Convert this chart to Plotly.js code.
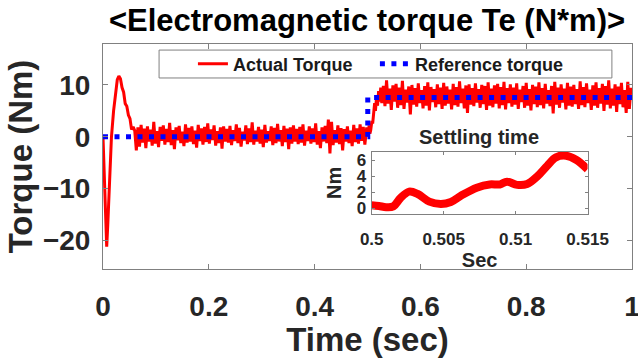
<!DOCTYPE html>
<html><head><meta charset="utf-8">
<script src="https://cdn.plot.ly/plotly-3.0.1.min.js"></script>
<style>html,body{margin:0;padding:0;background:#fff;} #chart{width:638px;height:358px;}</style>
</head><body><div id="chart"></div>
<script>
// ---- data ----
const transientT = [0,0.002,0.004,0.007,0.009,0.012,0.016,0.020,0.024,0.027,0.030,0.033,0.036,0.039,0.042,0.045,0.048,0.051,0.054,0.057];
const transientY = [0,-6,-14,-21.2,-17,-9,0,5,9,11,11.7,11.2,9.5,8.6,6.4,5.9,4.2,3.5,1.4,1.9];

const lowStart = 0.060, lowStep = 0.003;
const lowNoiseY = [
 1.2,-2.6,1.8,-1.9,2.3,-1.1,1.6,-2.2,2.0,-0.9,1.4,-1.7,2.9,-1.3,1.1,-2.0,1.9,-0.8,2.2,-1.5,
 1.5,-1.0,2.7,-1.6,1.3,-2.4,1.8,-0.7,2.1,-1.2,1.0,-1.8,2.4,-1.1,1.7,-0.9,2.0,-1.4,1.2,-2.1,
 2.3,-0.8,1.6,-1.5,1.9,-1.0,2.6,-1.3,1.4,-0.6,2.2,-1.7,1.1,-1.2,1.8,-2.3,2.0,-0.9,1.5,-1.1,
 2.1,-1.6,1.3,-0.8,2.4,-1.2,1.7,-1.9,1.0,-0.7,2.2,-1.4,1.6,-1.0,2.8,-1.5,1.2,-0.9,1.9,-1.3,
 1.4,-2.0,2.3,-1.1,1.1,-0.8,2.0,-1.6,1.7,-1.2,2.5,-0.9,1.3,-1.8,2.1,-1.0,1.6,-2.4,1.8,-1.3,
 2.2,-0.9,1.5,-1.4,1.9,-1.1,2.4,-1.7,1.2,-0.8,2.0,-1.3,1.6,-1.0,2.6,-1.5,1.1,-2.2,1.8,-0.9,
 2.1,-1.2,3.3,-3.2,2.9,-1.6,1.3,-1.1,2.2,-1.4,1.7,-2.6,1.5,-0.9,2.0,-1.2,1.2,-1.8,2.3,-1.0,
 1.6,-1.3,2.4,-0.8,1.9,-1.5];

const stepT = [0.4985,0.5,0.5015,0.503,0.5045,0.506,0.508,0.510,0.512,0.5135,0.515,0.517,0.519,0.521,0.523,0.525,0.527];
const stepY = [1.8,0.4,0.1,2.2,0.6,1.2,2.8,2.8,4.8,6.5,5.0,7.5,6.0,8.8,6.8,9.5,6.5];

const highStart = 0.530, highStep = 0.003;
const highNoiseY = [
 9.8,5.9,10.9,6.4,9.3,5.2,9.9,6.8,10.2,5.6,9.5,6.1,10.8,5.4,9.1,6.6,9.7,4.3,10.0,6.2,
 9.4,5.8,10.3,6.5,9.0,5.5,9.8,6.0,10.5,5.1,9.6,6.7,9.2,5.7,10.1,6.3,9.5,5.4,10.4,6.0,
 9.7,6.4,9.1,5.3,10.2,6.1,9.6,5.8,10.7,6.5,9.3,5.5,9.9,4.6,10.1,6.2,9.4,5.9,10.3,6.6,
 9.2,5.6,10.0,6.3,9.8,5.2,10.5,6.0,9.3,5.7,9.9,6.4,10.2,5.5,9.6,6.1,10.6,5.3,9.4,6.5,
 10.1,5.8,9.5,6.2,10.3,5.4,9.1,6.7,9.8,5.6,10.4,6.0,9.2,5.1,10.0,6.3,9.7,5.7,10.5,6.1,
 9.4,5.5,10.2,6.4,9.0,5.9,9.8,4.5,10.6,6.2,9.5,5.6,10.1,6.6,9.3,5.3,10.4,6.0,9.7,5.8,
 10.0,6.3,9.2,5.4,10.7,6.1,9.6,5.7,10.3,6.5,9.1,5.2,9.9,6.0,10.5,5.6,9.4,6.4,10.2,5.0,
 9.8,6.2,10.9,5.5,9.3,6.0,10.1,4.8,9.7,6.3,10.4,5.7,9.0,4.6,10.6,5.4,9.5];

const refT = [0, 0.5005, 0.5005, 1];
const refY = [0, 0, 7.6, 7.6];

const insetT = [0.5000,0.5005,0.5010,0.5015,0.5020,0.5026,0.5032,0.5040,0.5048,0.5055,0.5063,0.5073,0.5082,0.5089,0.5094,0.5101,0.5108,0.5115,0.5122,0.5128,0.5135,0.5142,0.5150];
const insetY = [0.40,0.30,0.15,0.25,1.30,2.10,1.80,0.85,0.55,0.80,1.70,2.60,3.00,3.00,3.35,2.95,3.05,4.00,5.35,6.40,6.60,6.10,4.90];

const mainXTicks = [0,0.2,0.4,0.6,0.8,1];
const mainYTicks = [-20,-10,0,10];
const insetXTicks = [0.5,0.505,0.51,0.515];
const insetXLabels = ['0.5','0.505','0.51','0.515'];
const insetYTicks = [0,2,4,6];

// ---- assemble the actual-torque series ----
const actualT = [], actualY = [];
transientT.forEach((t,i)=>{actualT.push(t); actualY.push(transientY[i]);});
lowNoiseY.forEach((v,i)=>{actualT.push(+(lowStart+i*lowStep).toFixed(4)); actualY.push(v);});
stepT.forEach((t,i)=>{actualT.push(t); actualY.push(stepY[i]);});
highNoiseY.forEach((v,i)=>{actualT.push(+(highStart+i*highStep).toFixed(4)); actualY.push(v);});

const FF = 'Liberation Sans, Arial, Helvetica, sans-serif';
const TXT = '#262626';
const AX = '#808080';

const traces = [
  {x: actualT, y: actualY, type:'scatter', mode:'lines', name:'Actual Torque',
   line:{color:'#ff0000', width:3}, legend:'legend', xaxis:'x', yaxis:'y'},
  {x: refT, y: refY, type:'scatter', mode:'lines', name:'Reference torque',
   line:{color:'#0000ff', width:5, dash:'5px,6.5px'}, legend:'legend2', xaxis:'x', yaxis:'y'},
  {x: insetT, y: insetY, type:'scatter', mode:'lines', showlegend:false,
   line:{color:'#ff0000', width:8, shape:'spline'}, xaxis:'x2', yaxis:'y2'}
];

const layout = {
  width:638, height:358,
  margin:{l:103, r:6, t:44, b:89},
  paper_bgcolor:'#ffffff', plot_bgcolor:'#ffffff',
  showlegend:true,
  title:{text:'<Electromagnetic torque Te (N*m)>', x:367/638, xref:'container', xanchor:'center',
         y:1-20/358, yref:'container', yanchor:'middle',
         font:{family:FF, size:31, weight:'bold', color:'#000'}},
  xaxis:{range:[0,1], tickvals:mainXTicks, ticks:'inside', ticklen:5, tickcolor:AX,
         showline:true, linecolor:AX, linewidth:1, mirror:'ticks', showgrid:false, zeroline:false,
         automargin:false, ticklabelstandoff:12, ticklabeloverflow:'allow',
         tickfont:{family:FF, size:28, weight:'bold', color:TXT},
         title:{text:'Time (sec)', standoff:10, font:{family:FF, size:33, weight:'bold', color:TXT}}},
  yaxis:{range:[-25.5,17.9], tickvals:mainYTicks, ticks:'inside', ticklen:5, tickcolor:AX,
         showline:true, linecolor:AX, linewidth:1, mirror:'ticks', showgrid:false, zeroline:false,
         automargin:false, ticklabelstandoff:6, ticklabeloverflow:'allow',
         tickfont:{family:FF, size:28, weight:'bold', color:TXT},
         title:{text:'Torque (Nm)', standoff:0, font:{family:FF, size:33, weight:'bold', color:TXT}}},
  xaxis2:{domain:[0.508,0.916], anchor:'y2', range:[0.5,0.515], tickvals:insetXTicks, ticktext:insetXLabels,
         ticks:'inside', ticklen:3, tickcolor:AX, showline:true, linecolor:AX, linewidth:1, mirror:'ticks',
         showgrid:false, zeroline:false, automargin:false, ticklabelstandoff:9, ticklabeloverflow:'allow',
         tickfont:{family:FF, size:17, weight:'bold', color:TXT},
         title:{text:'Sec', standoff:4, font:{family:FF, size:20, weight:'bold', color:TXT}}},
  yaxis2:{domain:[0.244,0.521], anchor:'x2', range:[-0.72,7.1], tickvals:insetYTicks,
         ticks:'inside', ticklen:3, tickcolor:AX, showline:true, linecolor:AX, linewidth:1, mirror:'ticks',
         showgrid:false, zeroline:false, automargin:false, ticklabelstandoff:1, ticklabeloverflow:'allow',
         tickfont:{family:FF, size:17, weight:'bold', color:TXT},
         title:{text:'Nm', standoff:9, font:{family:FF, size:20, weight:'bold', color:TXT}}},
  legend:{x:0.170, y:0.911, xanchor:'left', yanchor:'middle', orientation:'h', bgcolor:'rgba(0,0,0,0)',
          borderwidth:0, font:{family:FF, size:18, weight:'bold', color:'#1a1a1a'}},
  legend2:{x:0.514, y:0.911, xanchor:'left', yanchor:'middle', orientation:'h', bgcolor:'rgba(0,0,0,0)',
          borderwidth:0, font:{family:FF, size:18, weight:'bold', color:'#1a1a1a'}},
  shapes:[{type:'rect', xref:'paper', yref:'paper', x0:0.106, x1:0.962, y0:0.849, y1:0.973,
           line:{color:AX, width:1}, fillcolor:'#ffffff', layer:'below'}],
  annotations:[{text:'Settling time', xref:'paper', yref:'paper', x:0.711, y:0.587, xanchor:'center', yanchor:'middle',
           showarrow:false, font:{family:FF, size:20, weight:'bold', color:TXT}}]
};

Plotly.newPlot('chart', traces, layout, {staticPlot:true, displayModeBar:false});
</script></body></html>
